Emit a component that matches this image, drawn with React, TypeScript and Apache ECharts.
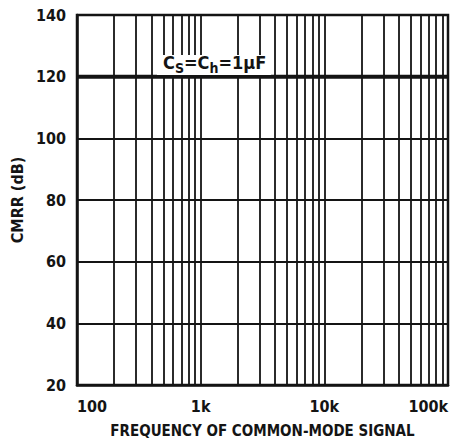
import React, { useEffect, useRef } from "react";
import * as echarts from "echarts";

const freqHz = [100, 100000];
const cmrrDb = [120, 120];
const minorFreqs = [
  200, 300, 400, 500, 600, 700, 800, 900,
  2000, 3000, 4000, 5000, 6000, 7000, 8000, 9000,
  20000, 30000, 40000, 50000, 60000, 70000, 80000, 90000,
];
const xTickLabels: Record<number, string> = { 100: "100", 1000: "1k", 10000: "10k", 100000: "100k" };
const xTitle = "FREQUENCY OF COMMON-MODE SIGNAL";
const yTitle = "CMRR (dB)";

const FONT = "'DejaVu Sans Condensed', 'Liberation Sans Narrow', 'Liberation Sans', sans-serif";
const INK = "#141414";

export default function App() {
  const ref = useRef<HTMLDivElement>(null);
  useEffect(() => {
    document.body.style.margin = "0";
    if (!ref.current) return;
    const chart = echarts.init(ref.current, undefined, { renderer: "svg" });
    chart.setOption({
      animation: false,
      backgroundColor: "#ffffff",
      textStyle: { fontFamily: FONT },
      grid: { left: 77, right: 16, top: 15, bottom: 56, show: true, borderColor: INK, borderWidth: 2.5, backgroundColor: "transparent" },
      xAxis: {
        type: "log",
        logBase: 10,
        min: 100,
        max: 100000,
        name: xTitle,
        nameLocation: "middle",
        nameGap: 38,
        nameTextStyle: { fontFamily: FONT, fontSize: 15, fontWeight: "bold", color: INK },
        axisLine: { show: true, lineStyle: { color: INK, width: 2.5 } },
        axisTick: { show: false },
        axisLabel: {
          fontFamily: FONT,
          fontSize: 16,
          fontWeight: "bold",
          color: INK,
          margin: 13,
          alignMinLabel: "left",
          alignMaxLabel: "right",
          formatter: (v: number) => xTickLabels[Math.round(v)] ?? "",
        },
        splitLine: { show: true, lineStyle: { color: INK, width: 1.8 } },
      },
      yAxis: {
        type: "value",
        min: 20,
        max: 140,
        interval: 20,
        name: yTitle,
        nameLocation: "middle",
        nameGap: 48,
        nameRotate: 90,
        nameTextStyle: { fontFamily: FONT, fontSize: 16, fontWeight: "bold", color: INK },
        axisLine: { show: true, lineStyle: { color: INK, width: 2.5 } },
        axisTick: { show: false },
        axisLabel: { fontFamily: FONT, fontSize: 16, fontWeight: "bold", color: INK, margin: 11 },
        splitLine: { show: true, lineStyle: { color: INK, width: 1.8 } },
      },
      series: [
        {
          type: "line",
          data: freqHz.map((f, i) => [f, cmrrDb[i]]),
          symbol: "none",
          lineStyle: { color: INK, width: 4 },
          silent: true,
          z: 5,
          markLine: {
            silent: true,
            symbol: ["none", "none"],
            label: { show: false },
            lineStyle: { color: INK, width: 1.8, type: "solid" },
            data: minorFreqs.map((f) => ({ xAxis: f })),
          },
        },
      ],
      graphic: [
        {
          type: "rect",
          left: 157,
          top: 55,
          z: 9,
          shape: { width: 114, height: 20 },
          style: { fill: "#ffffff" },
          silent: true,
        },
        {
          type: "text",
          left: 163,
          top: 53,
          z: 10,
          style: {
            text: "{m|C}{s|S}{m|=C}{s|h}{m|=1µF}",
            fill: INK,
            rich: {
              m: { fontFamily: FONT, fontSize: 18, fontWeight: "bold", color: INK, lineHeight: 22, verticalAlign: "top" },
              s: { fontFamily: FONT, fontSize: 14, fontWeight: "bold", color: INK, lineHeight: 14, verticalAlign: "bottom" },
            },
          },
        },
      ],
    });
    return () => chart.dispose();
  }, []);
  return <div ref={ref} style={{ width: 464, height: 443 }} />;
}
